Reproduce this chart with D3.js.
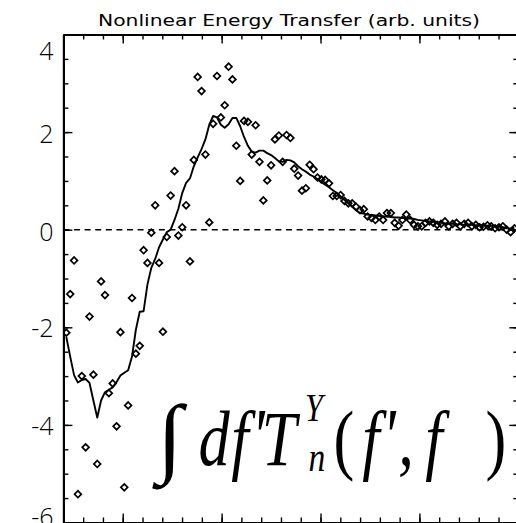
<!DOCTYPE html>
<html><head><meta charset="utf-8">
<script src="https://cdn.jsdelivr.net/npm/d3@7"></script>
<style>body{margin:0;background:#fff} svg{display:block}</style>
</head><body><svg id="c" width="516" height="523"></svg>
<script>
const titleText = "Nonlinear Energy Transfer (arb. units)";
// frequency bins (Hz), k/512 for k = 11..127
const freq = [0.02148,0.02344,0.02539,0.02734,0.02930,0.03125,0.03320,0.03516,0.03711,0.03906,
0.04102,0.04297,0.04492,0.04688,0.04883,0.05078,0.05273,0.05469,0.05664,0.05859,
0.06055,0.06250,0.06445,0.06641,0.06836,0.07031,0.07227,0.07422,0.07617,0.07813,
0.08008,0.08203,0.08398,0.08594,0.08789,0.08984,0.09180,0.09375,0.09570,0.09766,
0.09961,0.10156,0.10352,0.10547,0.10742,0.10938,0.11133,0.11328,0.11523,0.11719,
0.11914,0.12109,0.12305,0.12500,0.12695,0.12891,0.13086,0.13281,0.13477,0.13672,
0.13867,0.14063,0.14258,0.14453,0.14648,0.14844,0.15039,0.15234,0.15430,0.15625,
0.15820,0.16016,0.16211,0.16406,0.16602,0.16797,0.16992,0.17188,0.17383,0.17578,
0.17773,0.17969,0.18164,0.18359,0.18555,0.18750,0.18945,0.19141,0.19336,0.19531,
0.19727,0.19922,0.20117,0.20313,0.20508,0.20703,0.20898,0.21094,0.21289,0.21484,
0.21680,0.21875,0.22070,0.22266,0.22461,0.22656,0.22852,0.23047,0.23242,0.23438,
0.23633,0.23828,0.24023,0.24219,0.24414,0.24609,0.24805];
// measured transfer (diamonds)
const transferPoints = [-2.11,-1.32,-0.63,-5.42,-3.00,-4.46,-1.78,-2.97,-4.80,-1.06,
-1.34,-3.35,-3.15,-4.03,-2.10,-5.28,-3.60,-1.40,-2.54,-2.38,
-0.42,-0.68,-0.06,0.50,-0.68,-2.09,-0.15,0.70,1.20,-0.12,
0.05,0.50,-0.65,1.43,3.13,2.84,1.54,0.15,2.17,3.15,
2.30,2.55,3.34,3.08,1.72,1.00,2.23,2.21,1.54,2.14,
1.39,0.60,1.01,1.32,1.85,1.93,1.39,1.94,1.88,1.25,
1.11,0.80,0.85,1.33,1.24,1.07,1.03,1.02,0.95,0.69,
0.69,0.71,0.59,0.54,0.54,0.47,0.40,0.42,0.27,0.24,
0.20,0.27,0.20,0.34,0.34,0.14,0.08,0.20,0.31,0.20,
0.10,0.07,0.07,0.14,0.17,0.14,0.10,0.12,0.17,0.07,
0.12,0.14,0.07,0.12,0.14,0.07,0.10,0.05,0.06,0.09,
0.07,0.03,0.05,0.07,0.00,-0.05,0.03];
// smoothed transfer (solid line)
const transferSmooth = [-2.20,-2.60,-2.98,-3.13,-3.08,-3.06,-3.14,-3.50,-3.85,-3.50,
-3.33,-3.28,-3.23,-3.12,-2.99,-2.93,-2.88,-2.60,-2.05,-1.68,
-1.67,-1.12,-0.78,-0.60,-0.36,-0.20,-0.05,0.00,0.20,0.43,
0.75,0.96,1.05,1.30,1.48,1.65,1.85,2.15,2.33,2.30,
2.15,2.09,2.16,2.29,2.29,2.12,1.90,1.72,1.60,1.58,
1.62,1.62,1.57,1.53,1.47,1.40,1.39,1.43,1.42,1.38,
1.30,1.24,1.19,1.13,1.09,1.04,0.98,0.92,0.87,0.81,
0.75,0.68,0.61,0.54,0.47,0.40,0.34,0.33,0.31,0.30,
0.29,0.28,0.27,0.27,0.26,0.25,0.25,0.24,0.24,0.23,
0.22,0.20,0.19,0.18,0.17,0.16,0.15,0.14,0.13,0.12,
0.12,0.11,0.11,0.10,0.10,0.10,0.09,0.09,0.09,0.08,
0.08,0.07,0.07,0.05,0.03,0.02,0.04];
const yTickValues = [-6,-4,-2,0,2,4];
const yTickLabels = ["-6","-4","-2","0","2","4"];
const xDomain = [0.02, 0.25];
const yDomain = [-6, 4];

const svg = d3.select("#c");
svg.append("rect").attr("width",516).attr("height",523).attr("fill","#fff");
const x = d3.scaleLinear().domain(xDomain).range([63.4, 518.3]);
const y = d3.scaleLinear().domain(yDomain).range([522.5, 34.5]);

svg.append("defs").append("clipPath").attr("id","pc")
  .append("rect").attr("x",x(xDomain[0])).attr("y",y(yDomain[1]))
  .attr("width",x(xDomain[1])-x(xDomain[0])).attr("height",y(yDomain[0])-y(yDomain[1]));

// zero line
svg.append("line").attr("x1",x(xDomain[0])).attr("x2",x(xDomain[1]))
  .attr("y1",y(0)).attr("y2",y(0)).attr("stroke","#000").attr("stroke-width",1.6)
  .attr("stroke-dasharray","6,4.6");

const plot = svg.append("g").attr("clip-path","url(#pc)");
const data = freq.map((f,i)=>({f, p:transferPoints[i], s:transferSmooth[i]}));
plot.append("path").datum(data)
  .attr("d", d3.line().x(d=>x(d.f)).y(d=>y(d.s)))
  .attr("fill","none").attr("stroke","#000").attr("stroke-width",1.9).attr("stroke-linejoin","round");
const sym = d3.symbol(d3.symbolSquare, 23);
plot.selectAll("path.pt").data(data).join("path").attr("class","pt")
  .attr("d", sym).attr("transform", d=>`translate(${x(d.f)},${y(d.p)}) rotate(45)`)
  .attr("fill","none").attr("stroke","#000").attr("stroke-width",1.7);

// axes frame
function styleAxis(g){ g.select(".domain").attr("stroke-width",2).attr("stroke","#000");
  g.selectAll(".tick line").attr("stroke-width",1.4).attr("stroke","#000"); g.selectAll("text").remove(); }
const xMinor = x.ticks(25), xMajor = x.ticks(5), yMinor = y.ticks(20), yMajor = y.ticks(5);
[[d3.axisTop, y(yDomain[1])],[d3.axisBottom, y(yDomain[0])]].forEach(([ax,pos])=>{
  svg.append("g").attr("transform",`translate(0,${pos})`).call(ax(x).tickValues(xMinor).tickSize(-5).tickSizeOuter(0)).call(styleAxis);
  svg.append("g").attr("transform",`translate(0,${pos})`).call(ax(x).tickValues(xMajor).tickSize(-9).tickSizeOuter(0)).call(styleAxis);
});
[[d3.axisLeft, x(xDomain[0])],[d3.axisRight, x(xDomain[1])]].forEach(([ax,pos])=>{
  svg.append("g").attr("transform",`translate(${pos},0)`).call(ax(y).tickValues(yMinor).tickSize(-5).tickSizeOuter(0)).call(styleAxis);
  svg.append("g").attr("transform",`translate(${pos},0)`).call(ax(y).tickValues(yMajor).tickSize(-9).tickSizeOuter(0)).call(styleAxis);
});

// y tick labels (placed as in the original figure)
const labelShift = {"-6":3.5,"-4":10.1,"-2":9.4,"0":11,"2":11.2,"4":25.5};
svg.selectAll("text.yl").data(yTickValues).join("text").attr("class","yl")
  .attr("x",53.5).attr("y",v=>y(v)+labelShift[v]).attr("text-anchor","end")
  .attr("font-family","'Open Sans', 'Liberation Sans', sans-serif").attr("font-weight",300)
  .attr("font-size",25).attr("fill","#000").text((v,i)=>yTickLabels[i]);

// title
svg.append("text").attr("x",289).attr("y",26).attr("text-anchor","middle")
  .attr("font-family","'DejaVu Sans', sans-serif").attr("font-size",16)
  .attr("textLength",382).attr("lengthAdjust","spacingAndGlyphs").text(titleText);

// formula: ∫ df′ T_n^Y (f′, f)
const F = svg.append("g").attr("font-family","'Liberation Serif', 'Times New Roman', serif").attr("fill","#000");
function glyph(t, cx, base, size, italic, sx){
  F.append("text").attr("transform",`translate(${cx},${base}) scale(${sx},1)`)
    .attr("text-anchor","middle").attr("font-size",size)
    .attr("font-style",italic?"italic":"normal").text(t);
}
F.append("text").attr("transform","translate(170,466) scale(1.05,1)").attr("text-anchor","middle")
  .attr("font-size",88).attr("font-weight","bold").text("\u222B");
const S = 0.8;
glyph("d", 214, 465, 78, true, S);
glyph("f", 240, 465, 78, true, S);
glyph("'", 258, 462, 78, true, S);
glyph("T", 279, 465, 78, true, S);
glyph("Y", 314, 421, 40, true, S);
glyph("n", 317, 471, 42, true, S);
glyph("(", 344, 465, 78, false, S);
glyph("f", 371, 465, 78, true, S);
glyph("'", 389, 462, 78, true, S);
glyph(",", 406, 465, 78, true, S);
glyph("f", 434, 465, 78, true, S);
glyph(")", 496, 465, 78, false, S);
</script></body></html>
